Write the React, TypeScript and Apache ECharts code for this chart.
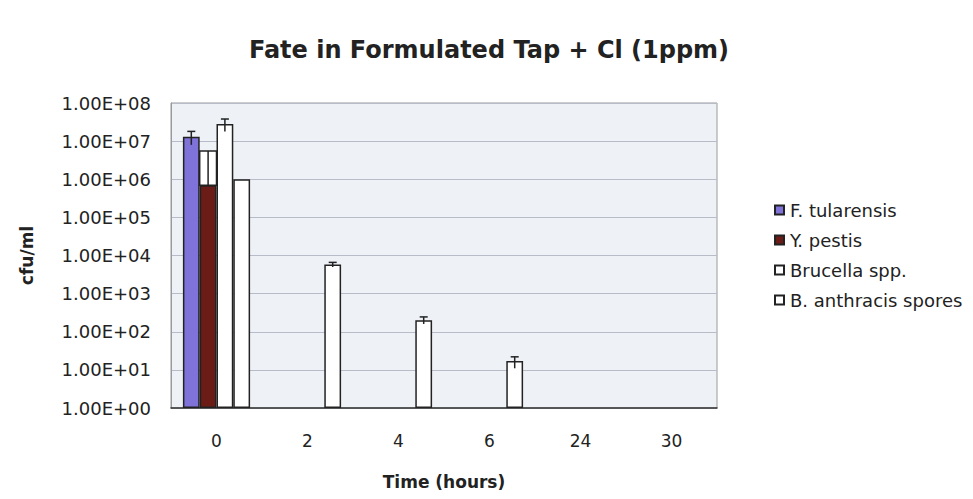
import React, { useEffect, useRef } from "react";
import * as echarts from "echarts";

const categories = ["0", "2", "4", "6", "24", "30"];
const seriesNames = ["F. tularensis", "Y. pestis", "Brucella spp.", "B. anthracis spores"];
const fTularensis = [1.3e7, null, null, null, null, null];
const yPestis = [7e5, null, null, null, null, null];
const brucella = [2.8e7, null, null, null, null, null];
const bAnthracis = [1e6, 5.8e3, 200, 17, null, null];
// error bars: [categoryIndex, seriesIndex, low, high, kind]
const errorBars = [
  [0, 0, 8e6, 1.8e7, 0],
  [0, 1, 7e5, 5.5e6, 1],
  [0, 2, 1.8e7, 3.8e7, 0],
  [1, 3, 5.0e3, 6.6e3, 0],
  [2, 3, 160, 245, 0],
  [3, 3, 11, 22, 0],
];
const yTickExps = [0, 1, 2, 3, 4, 5, 6, 7, 8];

const FONT = "'DejaVu Sans', Verdana, sans-serif";
const BAR_W = 16.8;

export default function App() {
  const ref = useRef<HTMLDivElement>(null);
  useEffect(() => {
    if (!ref.current) return;
    const chart = echarts.init(ref.current, null, { renderer: "svg" });
    const barStyle = (color: string) => ({
      color,
      borderColor: "#222",
      borderWidth: 1.5,
    });
    const values = [fTularensis, yPestis, brucella, bAnthracis];
    const colors = ["#7f72d8", "#6c1c17", "#ffffff", "#ffffff"];
    chart.setOption({
      animation: false,
      backgroundColor: "#ffffff",
      title: {
        text: "Fate in Formulated Tap + Cl (1ppm)",
        left: 484,
        top: 33,
        textAlign: "center",
        textStyle: { fontFamily: FONT, fontSize: 24, fontWeight: "bold", color: "#222" },
      },
      legend: {
        orient: "vertical",
        left: 769,
        top: 196,
        itemWidth: 9,
        itemHeight: 9,
        itemGap: 12,
        icon: "rect",
        data: seriesNames,
        textStyle: { fontFamily: FONT, fontSize: 18, color: "#222", padding: [0, 0, 0, 1] },
      },
      grid: { left: 171, right: 256, top: 103, bottom: 91, show: true, backgroundColor: "#eef1f6", borderColor: "#9a9a9a", borderWidth: 1 },
      xAxis: {
        type: "category",
        data: categories,
        name: "Time (hours)",
        nameLocation: "middle",
        nameGap: 65,
        nameTextStyle: { fontFamily: FONT, fontSize: 17, fontWeight: "bold", color: "#222" },
        axisLine: { lineStyle: { color: "#333", width: 1.5 } },
        axisTick: { show: false },
        axisLabel: { fontFamily: FONT, fontSize: 17, color: "#222", margin: 24 },
      },
      yAxis: {
        type: "log",
        logBase: 10,
        min: 1,
        max: 1e8,
        splitNumber: 8,
        name: "cfu/ml",
        nameLocation: "middle",
        nameGap: 136,
        nameTextStyle: { fontFamily: FONT, fontSize: 17, fontWeight: "bold", color: "#222" },
        axisLine: { show: true, lineStyle: { color: "#9a9a9a" } },
        axisTick: { show: false },
        splitLine: { lineStyle: { color: "#b7bcc8", width: 1 } },
        axisLabel: {
          fontFamily: FONT,
          fontSize: 18,
          color: "#222",
          margin: 20,
          formatter: (v: number) => {
            const e = Math.round(Math.log10(v));
            if (!yTickExps.includes(e)) return "";
            return "1.00E+" + (e < 10 ? "0" : "") + e;
          },
        },
      },
      series: [
        ...seriesNames.map((name, i) => ({
          name,
          type: "bar",
          data: values[i],
          barWidth: BAR_W,
          barGap: "0%",
          itemStyle: barStyle(colors[i]),
        })),
        {
          type: "custom",
          data: errorBars,
          z: 10,
          silent: true,
          renderItem: (params: any, api: any) => {
            const cat = api.value(0);
            const s = api.value(1);
            const lo = api.value(2);
            const hi = api.value(3);
            const kind = api.value(4);
            const base = api.coord([cat, lo]);
            const top = api.coord([cat, hi]);
            const x = base[0] + (s - 1.5) * BAR_W;
            const children: any[] = [];
            if (kind === 1) {
              children.push({
                type: "rect",
                shape: { x: x - BAR_W / 2, y: top[1], width: BAR_W, height: base[1] - top[1] },
                style: { fill: "#ffffff", stroke: "#222", lineWidth: 1.5 },
              });
            } else {
              children.push({
                type: "line",
                shape: { x1: x - 4, y1: top[1], x2: x + 4, y2: top[1] },
                style: { stroke: "#222", lineWidth: 1.5 },
              });
            }
            children.push({
              type: "line",
              shape: { x1: x, y1: top[1], x2: x, y2: base[1] },
              style: { stroke: "#222", lineWidth: 1.5 },
            });
            return { type: "group", children };
          },
        },
      ],
    });
    return () => chart.dispose();
  }, []);
  return <div ref={ref} style={{ width: 973, height: 499, margin: -8 }} />;
}
